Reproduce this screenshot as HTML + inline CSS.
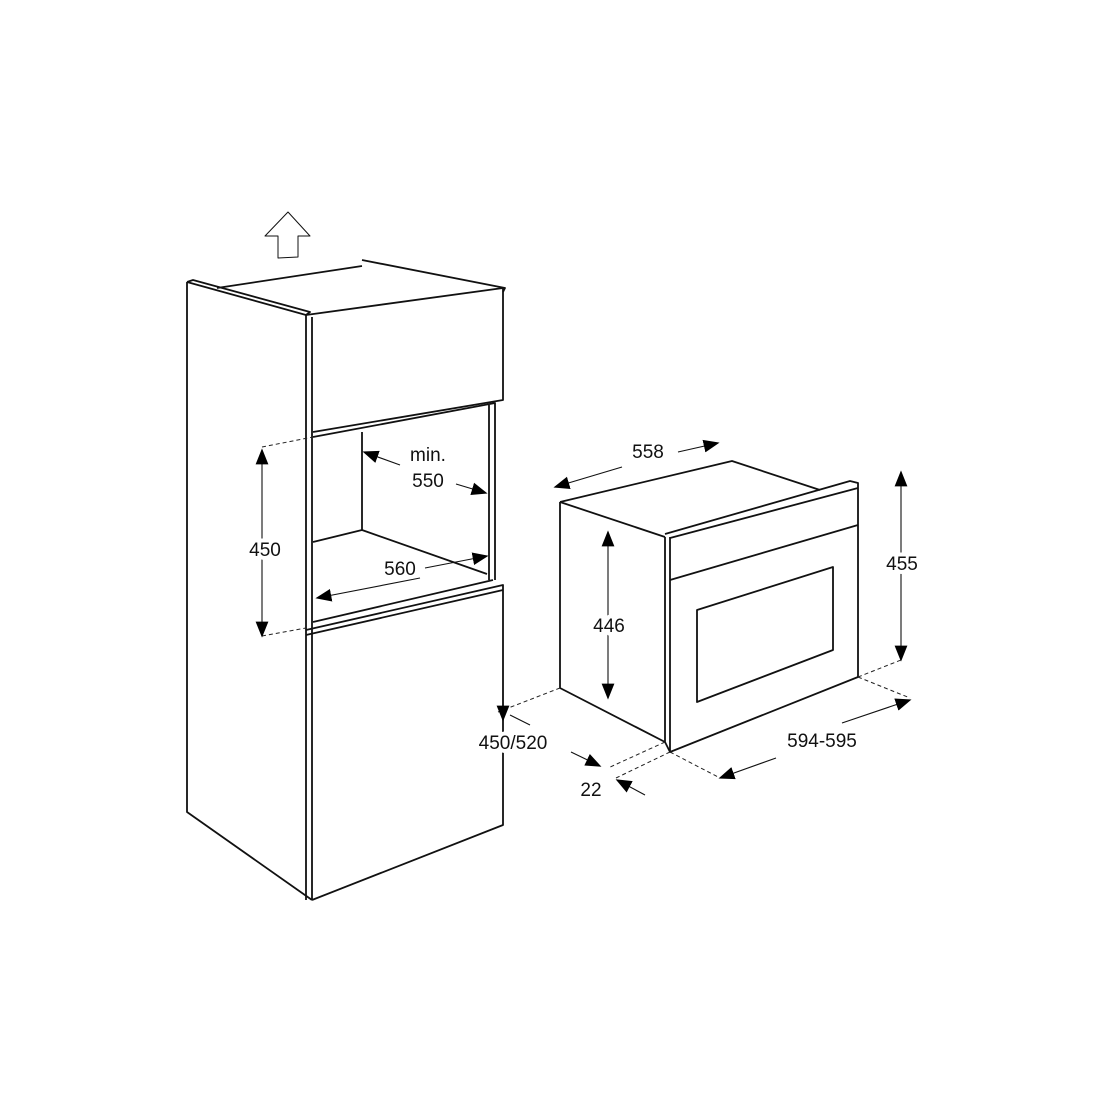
<!DOCTYPE html>
<html><head><style>body{margin:0;background:#fff}svg{display:block}text{font-family:"Liberation Sans",sans-serif;font-size:19px;fill:#111;stroke:#fff;stroke-width:8px;paint-order:stroke;stroke-linejoin:round}</style></head><body>
<svg width="1100" height="1100" viewBox="0 0 1100 1100">
<defs>
<marker id="b" viewBox="0 0 10 10" refX="9" refY="5" markerWidth="16" markerHeight="16" markerUnits="userSpaceOnUse" orient="auto-start-reverse"><path d="M0,1L10,5L0,9z" fill="#000"/></marker></defs>
<g fill="none" stroke="#111" stroke-width="1.8" stroke-linejoin="round">
<path d="M288,212L265,236L278,236L278,258L298,257L298,236L310,236Z" stroke-width="1"/>
<path d="M187,282L187,812L312,900"/>
<path d="M187,282L193,280L310,312L306,315L187,282"/>
<path d="M217,288L362,266"/>
<path d="M362,260L505,288L503,292"/>
<path d="M306,315L503,288L503,400L313,432"/>
<path d="M306,315L306,900M312,317L312,900"/>
<path d="M313,437L495,403L495,580"/>
<path d="M489,405L489,580"/>
<path d="M362,432L362,530"/>
<path d="M313,542L362,530L487,574"/>
<path d="M313,622L493,580"/>
<path d="M306,630L503,585L503,825L312,900"/>
<path d="M306,635L503,590"/>
<path d="M560,502L560,688L665,742"/>
<path d="M560,502L732,461L820,490"/>
<path d="M560,502L665,537"/>
<path d="M665,537L665,742L670,752L858,677L858,483L850,481L665,534"/>
<path d="M670,537L670,752"/>
<path d="M670,538L858,488"/>
<path d="M670,580L858,525"/>
<path d="M697,610L833,567L833,650L697,702Z"/>
</g>
<g fill="none" stroke="#222" stroke-width="1" stroke-dasharray="4,3">
<path d="M262,447L313,437M262,636L306,628"/>
<path d="M560,688L498,712M858,677L901,660M858,677L910,698M665,742L608,768M670,752L616,778M670,752L720,778"/>
</g>
<g stroke="#111" stroke-width="1.1" fill="none">
<path d="M262,450L262,636" marker-start="url(#b)" marker-end="url(#b)"/>
<path d="M400,465L364,452" marker-end="url(#b)"/><path d="M456,484L486,493" marker-end="url(#b)"/>
<path d="M420,578L317,598" marker-end="url(#b)"/><path d="M425,568L487,556" marker-end="url(#b)"/>
<path d="M622,467L555,487" marker-end="url(#b)"/><path d="M678,452L718,443" marker-end="url(#b)"/>
<path d="M608,532L608,698" marker-start="url(#b)" marker-end="url(#b)"/>
<path d="M901,472L901,660" marker-start="url(#b)" marker-end="url(#b)"/>
<path d="M776,758L720,778" marker-end="url(#b)"/><path d="M842,723L910,700" marker-end="url(#b)"/>
<path d="M503,690L503,720" marker-end="url(#b)"/><path d="M530,725L510,715"/>
<path d="M571,752L600,766" marker-end="url(#b)"/><path d="M645,795L617,780" marker-end="url(#b)"/>
</g>
<g text-anchor="middle">
<text x="265" y="556">450</text>
<text x="428" y="461">min.</text>
<text x="428" y="487">550</text>
<text x="400" y="575">560</text>
<text x="648" y="458">558</text>
<text x="609" y="632">446</text>
<text x="902" y="570">455</text>
<text x="822" y="747">594-595</text>
<text x="513" y="749">450/520</text>
<text x="591" y="796">22</text>
</g>
</svg>
</body></html>
